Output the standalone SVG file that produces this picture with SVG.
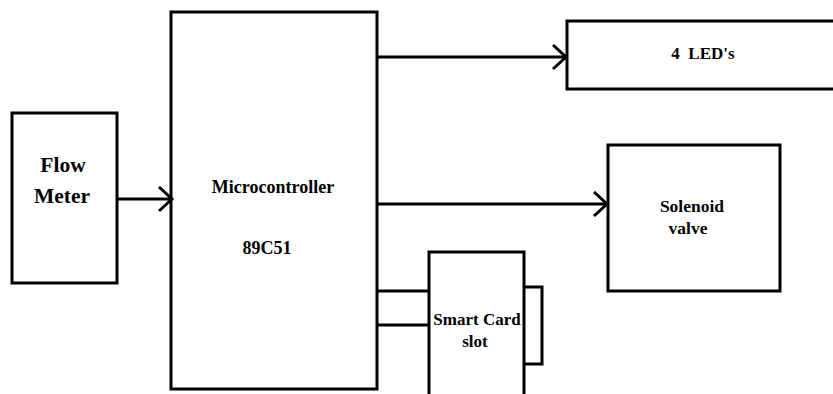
<svg xmlns="http://www.w3.org/2000/svg" width="833" height="394" viewBox="0 0 833 394">
<style>
.box{fill:#fff;stroke:#000;stroke-width:3}
.ln{fill:none;stroke:#000;stroke-width:3}
text{font-family:"Liberation Serif","DejaVu Serif",serif;font-weight:bold;fill:#000;text-anchor:middle}
</style>
<defs>
<marker id="ah" markerUnits="userSpaceOnUse" markerWidth="20" markerHeight="30" refX="14" refY="13" orient="auto" viewBox="0 0 20 30">
<path d="M1,1 L14,13 L1,25" fill="none" stroke="#000" stroke-width="3"/>
</marker>
</defs>
<rect width="833" height="394" fill="#fff"/>
<g id="flowmeter">
<rect class="box" x="12" y="113" width="105" height="170"/>
<text x="63" y="172" font-size="21.5">Flow</text>
<text x="62" y="203" font-size="21.5">Meter</text>
</g>
<g id="microcontroller">
<rect class="box" x="171" y="12" width="206" height="377"/>
<text x="273" y="193" font-size="18">Microcontroller</text>
<text x="267" y="254" font-size="18">89C51</text>
</g>
<g id="leds">
<rect class="box" x="567" y="21" width="280" height="68"/>
<text x="703" y="59" font-size="17" xml:space="preserve">4  LED's</text>
</g>
<g id="solenoid">
<rect class="box" x="608" y="145" width="172" height="146"/>
<text x="692" y="212" font-size="17.5">Solenoid</text>
<text x="688" y="234" font-size="17.5">valve</text>
</g>
<g id="smartcard">
<path class="ln" d="M524,287 H542 V364 H524"/>
<rect class="box" x="429" y="252" width="95" height="160"/>
<text x="477" y="325" font-size="17">Smart Card</text>
<text x="475" y="347" font-size="17">slot</text>
</g>
<g id="connectors">
<line class="ln" x1="117" y1="199" x2="172" y2="199" marker-end="url(#ah)"/>
<line class="ln" x1="377" y1="57" x2="566" y2="57" marker-end="url(#ah)"/>
<line class="ln" x1="377" y1="204" x2="607" y2="204" marker-end="url(#ah)"/>
<line class="ln" x1="377" y1="291" x2="429" y2="291"/>
<line class="ln" x1="377" y1="325" x2="429" y2="325"/>
</g>
</svg>
